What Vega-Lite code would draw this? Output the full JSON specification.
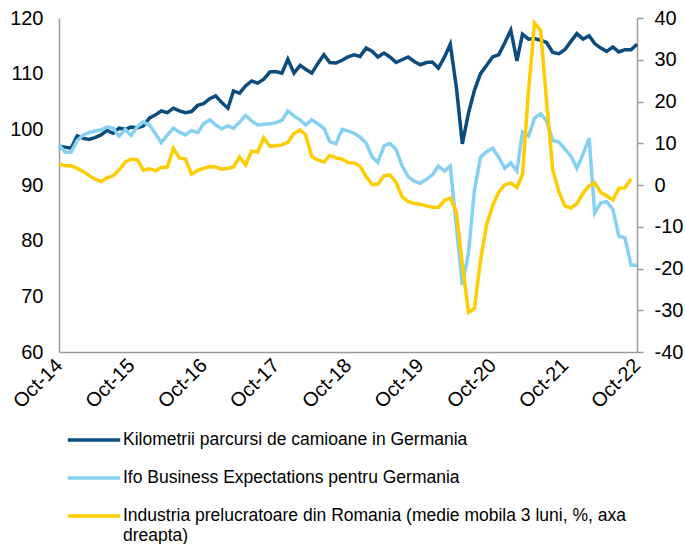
{
  "$schema": "https://vega.github.io/schema/vega-lite/v6.json",
  "width": 578,
  "height": 334,
  "autosize": {"type": "none"},
  "padding": {"left": 59, "top": 18, "right": 49, "bottom": 192},
  "background": "white",
  "config": {
    "view": {"stroke": null},
    "font": "Liberation Sans",
    "axis": {"labelFont": "Liberation Sans", "labelFontSize": 20, "labelColor": "#000000", "domainColor": "#9a9a9a", "domainWidth": 1.5, "grid": false, "title": null, "labelOverlap": false, "labelFlush": false}
  },
  "data": {
    "values": [
      {"d": "2014-10-01", "truck": 97.0, "ifo": 97.2, "ind": 5.0},
      {"d": "2014-11-01", "truck": 96.8, "ifo": 95.9, "ind": 4.6},
      {"d": "2014-12-01", "truck": 96.6, "ifo": 95.9, "ind": 4.6},
      {"d": "2015-01-01", "truck": 98.8, "ifo": 98.0, "ind": 4.0},
      {"d": "2015-02-01", "truck": 98.4, "ifo": 99.0, "ind": 3.2},
      {"d": "2015-03-01", "truck": 98.2, "ifo": 99.4, "ind": 2.3},
      {"d": "2015-04-01", "truck": 98.5, "ifo": 99.7, "ind": 1.4},
      {"d": "2015-05-01", "truck": 99.0, "ifo": 99.9, "ind": 0.8},
      {"d": "2015-06-01", "truck": 99.8, "ifo": 100.4, "ind": 1.7},
      {"d": "2015-07-01", "truck": 99.3, "ifo": 100.2, "ind": 2.2},
      {"d": "2015-08-01", "truck": 100.2, "ifo": 98.8, "ind": 3.6},
      {"d": "2015-09-01", "truck": 100.0, "ifo": 100.0, "ind": 5.5},
      {"d": "2015-10-01", "truck": 100.4, "ifo": 98.9, "ind": 6.2},
      {"d": "2015-11-01", "truck": 100.3, "ifo": 100.5, "ind": 6.0},
      {"d": "2015-12-01", "truck": 100.6, "ifo": 101.3, "ind": 3.6},
      {"d": "2016-01-01", "truck": 102.0, "ifo": 100.8, "ind": 3.9},
      {"d": "2016-02-01", "truck": 102.6, "ifo": 99.2, "ind": 3.4},
      {"d": "2016-03-01", "truck": 103.3, "ifo": 97.6, "ind": 4.2},
      {"d": "2016-04-01", "truck": 103.0, "ifo": 99.0, "ind": 4.3},
      {"d": "2016-05-01", "truck": 103.8, "ifo": 100.2, "ind": 8.8},
      {"d": "2016-06-01", "truck": 103.3, "ifo": 99.5, "ind": 6.5},
      {"d": "2016-07-01", "truck": 103.0, "ifo": 99.0, "ind": 6.2},
      {"d": "2016-08-01", "truck": 103.2, "ifo": 99.8, "ind": 2.6},
      {"d": "2016-09-01", "truck": 104.3, "ifo": 99.4, "ind": 3.5},
      {"d": "2016-10-01", "truck": 104.6, "ifo": 101.0, "ind": 4.0},
      {"d": "2016-11-01", "truck": 105.5, "ifo": 101.7, "ind": 4.4},
      {"d": "2016-12-01", "truck": 106.0, "ifo": 100.8, "ind": 4.3},
      {"d": "2017-01-01", "truck": 104.8, "ifo": 100.1, "ind": 3.8},
      {"d": "2017-02-01", "truck": 103.8, "ifo": 100.6, "ind": 4.0},
      {"d": "2017-03-01", "truck": 106.9, "ifo": 100.2, "ind": 4.3},
      {"d": "2017-04-01", "truck": 106.5, "ifo": 101.3, "ind": 6.7},
      {"d": "2017-05-01", "truck": 107.8, "ifo": 102.5, "ind": 4.8},
      {"d": "2017-06-01", "truck": 108.7, "ifo": 101.5, "ind": 8.1},
      {"d": "2017-07-01", "truck": 108.3, "ifo": 100.8, "ind": 7.9},
      {"d": "2017-08-01", "truck": 109.0, "ifo": 100.9, "ind": 11.3},
      {"d": "2017-09-01", "truck": 110.3, "ifo": 101.0, "ind": 9.3},
      {"d": "2017-10-01", "truck": 110.4, "ifo": 101.2, "ind": 9.4},
      {"d": "2017-11-01", "truck": 110.1, "ifo": 101.6, "ind": 9.6},
      {"d": "2017-12-01", "truck": 112.6, "ifo": 103.3, "ind": 10.2},
      {"d": "2018-01-01", "truck": 110.1, "ifo": 102.4, "ind": 12.3},
      {"d": "2018-02-01", "truck": 111.5, "ifo": 101.7, "ind": 13.2},
      {"d": "2018-03-01", "truck": 110.8, "ifo": 100.8, "ind": 12.0},
      {"d": "2018-04-01", "truck": 110.1, "ifo": 101.7, "ind": 6.8},
      {"d": "2018-05-01", "truck": 111.8, "ifo": 101.0, "ind": 6.0},
      {"d": "2018-06-01", "truck": 113.4, "ifo": 100.2, "ind": 5.5},
      {"d": "2018-07-01", "truck": 112.0, "ifo": 97.8, "ind": 7.1},
      {"d": "2018-08-01", "truck": 111.9, "ifo": 97.4, "ind": 6.5},
      {"d": "2018-09-01", "truck": 112.4, "ifo": 100.0, "ind": 6.2},
      {"d": "2018-10-01", "truck": 113.0, "ifo": 99.7, "ind": 5.4},
      {"d": "2018-11-01", "truck": 113.4, "ifo": 99.3, "ind": 5.3},
      {"d": "2018-12-01", "truck": 113.1, "ifo": 98.6, "ind": 4.5},
      {"d": "2019-01-01", "truck": 114.6, "ifo": 97.5, "ind": 2.0},
      {"d": "2019-02-01", "truck": 114.0, "ifo": 95.0, "ind": 0.1},
      {"d": "2019-03-01", "truck": 113.0, "ifo": 94.1, "ind": 0.2},
      {"d": "2019-04-01", "truck": 113.7, "ifo": 97.0, "ind": 2.2},
      {"d": "2019-05-01", "truck": 113.0, "ifo": 97.5, "ind": 2.4},
      {"d": "2019-06-01", "truck": 112.0, "ifo": 96.4, "ind": 0.6},
      {"d": "2019-07-01", "truck": 112.5, "ifo": 93.5, "ind": -2.8},
      {"d": "2019-08-01", "truck": 113.0, "ifo": 91.5, "ind": -4.0},
      {"d": "2019-09-01", "truck": 112.2, "ifo": 90.7, "ind": -4.4},
      {"d": "2019-10-01", "truck": 111.6, "ifo": 90.3, "ind": -4.6},
      {"d": "2019-11-01", "truck": 112.0, "ifo": 91.0, "ind": -5.0},
      {"d": "2019-12-01", "truck": 112.1, "ifo": 91.8, "ind": -5.3},
      {"d": "2020-01-01", "truck": 111.0, "ifo": 93.4, "ind": -5.3},
      {"d": "2020-02-01", "truck": 113.0, "ifo": 92.5, "ind": -3.7},
      {"d": "2020-03-01", "truck": 115.3, "ifo": 93.4, "ind": -3.1},
      {"d": "2020-04-01", "truck": 107.5, "ifo": 82.5, "ind": -6.5},
      {"d": "2020-05-01", "truck": 97.4, "ifo": 72.0, "ind": -19.0},
      {"d": "2020-06-01", "truck": 102.9, "ifo": 77.8, "ind": -30.5},
      {"d": "2020-07-01", "truck": 107.0, "ifo": 89.0, "ind": -29.6},
      {"d": "2020-08-01", "truck": 110.0, "ifo": 95.0, "ind": -18.0},
      {"d": "2020-09-01", "truck": 111.5, "ifo": 96.0, "ind": -9.5},
      {"d": "2020-10-01", "truck": 113.0, "ifo": 96.6, "ind": -5.0},
      {"d": "2020-11-01", "truck": 113.4, "ifo": 95.0, "ind": -1.7},
      {"d": "2020-12-01", "truck": 115.5, "ifo": 93.0, "ind": 0.0},
      {"d": "2021-01-01", "truck": 117.8, "ifo": 94.0, "ind": 0.5},
      {"d": "2021-02-01", "truck": 112.3, "ifo": 92.5, "ind": -0.6},
      {"d": "2021-03-01", "truck": 117.1, "ifo": 99.5, "ind": 2.5},
      {"d": "2021-04-01", "truck": 116.2, "ifo": 98.8, "ind": 22.8},
      {"d": "2021-05-01", "truck": 116.3, "ifo": 102.0, "ind": 38.8},
      {"d": "2021-06-01", "truck": 116.0, "ifo": 102.8, "ind": 37.0},
      {"d": "2021-07-01", "truck": 115.6, "ifo": 101.5, "ind": 20.0},
      {"d": "2021-08-01", "truck": 113.8, "ifo": 98.0, "ind": 3.6},
      {"d": "2021-09-01", "truck": 113.6, "ifo": 97.7, "ind": -1.6},
      {"d": "2021-10-01", "truck": 114.3, "ifo": 96.5, "ind": -5.0},
      {"d": "2021-11-01", "truck": 115.8, "ifo": 95.2, "ind": -5.5},
      {"d": "2021-12-01", "truck": 117.2, "ifo": 93.0, "ind": -4.5},
      {"d": "2022-01-01", "truck": 116.2, "ifo": 95.5, "ind": -2.0},
      {"d": "2022-02-01", "truck": 116.8, "ifo": 98.4, "ind": -0.2},
      {"d": "2022-03-01", "truck": 115.4, "ifo": 85.0, "ind": 0.5},
      {"d": "2022-04-01", "truck": 114.6, "ifo": 86.8, "ind": -1.8},
      {"d": "2022-05-01", "truck": 114.0, "ifo": 87.0, "ind": -2.6},
      {"d": "2022-06-01", "truck": 114.8, "ifo": 85.6, "ind": -3.6},
      {"d": "2022-07-01", "truck": 113.9, "ifo": 80.8, "ind": -0.8},
      {"d": "2022-08-01", "truck": 114.3, "ifo": 80.5, "ind": -0.7},
      {"d": "2022-09-01", "truck": 114.3, "ifo": 75.6, "ind": 1.5},
      {"d": "2022-10-01", "truck": 115.3, "ifo": 75.6, "ind": null}
    ]
  },
  "encoding": {
    "x": {
      "field": "d",
      "type": "temporal",
      "scale": {"type": "utc", "domain": [{"year": 2014, "month": 10, "date": 1, "utc": true}, {"year": 2022, "month": 10, "date": 1, "utc": true}]},
      "axis": {
        "values": [
          {"year": 2014, "month": 10, "date": 1, "utc": true},
          {"year": 2015, "month": 10, "date": 1, "utc": true},
          {"year": 2016, "month": 10, "date": 1, "utc": true},
          {"year": 2017, "month": 10, "date": 1, "utc": true},
          {"year": 2018, "month": 10, "date": 1, "utc": true},
          {"year": 2019, "month": 10, "date": 1, "utc": true},
          {"year": 2020, "month": 10, "date": 1, "utc": true},
          {"year": 2021, "month": 10, "date": 1, "utc": true},
          {"year": 2022, "month": 10, "date": 1, "utc": true}
        ],
        "labelExpr": "utcFormat(datum.value, '%b-%y')",
        "labelAngle": -45,
        "labelAlign": "right",
        "labelBaseline": "middle",
        "ticks": false,
        "labelPadding": 10
      }
    }
  },
  "layer": [
    {
      "layer": [
        {
          "mark": {"type": "line", "strokeWidth": 3.5},
          "encoding": {
            "y": {"field": "truck", "type": "quantitative", "scale": {"domain": [60, 120], "nice": false, "zero": false},
                  "axis": {"values": [60, 70, 80, 90, 100, 110, 120], "ticks": false, "labelPadding": 16}},
            "color": {
              "datum": "Kilometrii parcursi de camioane in Germania",
              "scale": {
                "domain": ["Kilometrii parcursi de camioane in Germania", "Ifo Business Expectations pentru Germania", "Industria prelucratoare din Romania (medie mobila 3 luni, %, axa dreapta)"],
                "range": ["#0B4C7E", "#86D0F2", "#FFCC00"]
              },
              "legend": {
                "orient": "none",
                "legendX": 7,
                "legendY": 394,
                "direction": "vertical",
                "title": null,
                "padding": 0,
                "symbolType": "stroke",
                "symbolSize": 2750,
                "symbolStrokeWidth": 3.5,
                "labelFont": "Liberation Sans",
                "labelFontSize": 17.5,
                "labelColor": "#000000",
                "labelLimit": 700,
                "labelOffset": 1,
                "rowPadding": 1,
                "labelExpr": "indexof(datum.label, 'Industria') == 0 ? ['Industria prelucratoare din Romania (medie mobila 3 luni, %, axa', 'dreapta)'] : datum.label"
              }
            }
          }
        },
        {
          "mark": {"type": "line", "strokeWidth": 3.5},
          "encoding": {
            "y": {"field": "ifo", "type": "quantitative"},
            "color": {"datum": "Ifo Business Expectations pentru Germania"}
          }
        }
      ]
    },
    {
      "mark": {"type": "line", "strokeWidth": 3.5},
      "encoding": {
        "y": {"field": "ind", "type": "quantitative", "scale": {"domain": [-40, 40], "nice": false, "zero": false},
              "axis": {"orient": "right", "values": [-40, -30, -20, -10, 0, 10, 20, 30, 40], "ticks": true, "tickSize": 6, "tickColor": "#9a9a9a", "tickWidth": 1.5, "labelPadding": 11,
                       "labelExpr": "(datum.value < 0 ? '-' : '') + abs(datum.value)"}},
        "color": {"datum": "Industria prelucratoare din Romania (medie mobila 3 luni, %, axa dreapta)"}
      }
    }
  ],
  "resolve": {"scale": {"y": "independent"}}
}
